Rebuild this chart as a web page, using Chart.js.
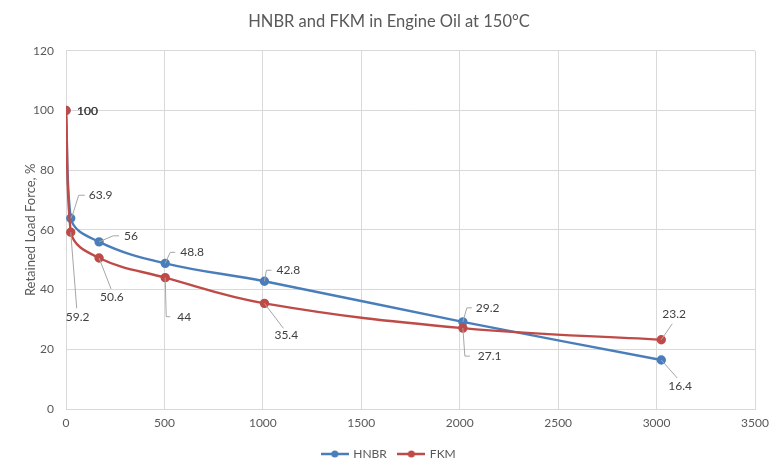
<!DOCTYPE html>
<html>
<head>
<meta charset="utf-8">
<script src="https://cdn.jsdelivr.net/npm/chart.js@4/dist/chart.umd.min.js"></script>
<style>
  body { margin: 0; background: #fff; }
  canvas { display: block; }
</style>
</head>
<body>
<canvas id="chart" width="784" height="470"></canvas>
<script>
// hours in oil
const hours = [0, 24, 168, 504, 1008, 2016, 3024];
// retained load force, %
const hnbr = [100, 63.9, 56, 48.8, 42.8, 29.2, 16.4];
const fkm = [100, 59.2, 50.6, 44, 35.4, 27.1, 23.2];
const xTickStep = 500;
const yTickStep = 20;

const FONT = 'Lato, "Open Sans", sans-serif';
const BLUE = '#4A7EBB';
const RED = '#BE4B48';

// where each data label sits relative to its point, with its leader line
const labelPlace = [
  [
    { t: [11, 1] },
    { t: [18, -23], l: [[2, -4], [8, -23], [14, -23]] },
    { t: [25, -6], l: [[14, -6], [20, -6]] },
    { t: [15, -11], l: [[5, -11], [10, -11]] },
    { t: [12, -11], l: [[2, -11], [7, -11]] },
    { t: [13, -14], l: [[4, -14], [9, -14]] },
    { t: [7, 26], l: [[16, 18]] }
  ],
  [
    { t: [11, 1] },
    { t: [-5, 85], l: [[6, 76]] },
    { t: [1, 39], l: [[12, 31]] },
    { t: [12, 39], l: [[1, 39], [5, 39]] },
    { t: [10, 32], l: [[19, 25]] },
    { t: [15, 28], l: [[2, 28], [7, 28]] },
    { t: [1, -26], l: [[11, -16]] }
  ]
];

const leaderLabels = {
  id: 'leaderLabels',
  afterDatasetsDraw(chart) {
    const ctx = chart.ctx;
    ctx.save();
    ctx.font = '12px ' + FONT;
    ctx.textBaseline = 'middle';
    ctx.textAlign = 'left';
    chart.data.datasets.forEach((ds, di) => {
      const meta = chart.getDatasetMeta(di);
      meta.data.forEach((pt, i) => {
        const p = labelPlace[di][i];
        if (p.l) {
          ctx.strokeStyle = '#A6A6A6';
          ctx.lineWidth = 1;
          ctx.beginPath();
          ctx.moveTo(pt.x, pt.y);
          p.l.forEach(q => ctx.lineTo(pt.x + q[0], pt.y + q[1]));
          ctx.stroke();
        }
        ctx.fillStyle = '#404040';
        ctx.fillText(String(ds.data[i].y), pt.x + p.t[0], pt.y + p.t[1]);
      });
    });
    ctx.restore();
  }
};

function legendMark(color) {
  const c = document.createElement('canvas');
  c.width = 28; c.height = 10;
  const g = c.getContext('2d');
  g.strokeStyle = color; g.lineWidth = 2.5;
  g.beginPath(); g.moveTo(0, 5); g.lineTo(28, 5); g.stroke();
  g.fillStyle = color;
  g.beginPath(); g.arc(14, 5, 3.5, 0, Math.PI * 2); g.fill();
  return c;
}

function series(label, values, color, order) {
  return {
    label: label,
    data: hours.map((h, i) => ({ x: h, y: values[i] })),
    borderColor: color,
    backgroundColor: color,
    borderWidth: 2.4,
    pointRadius: 3.5,
    pointHoverRadius: 3.5,
    tension: 0.4,
    order: order
  };
}

const ctx = document.getElementById('chart').getContext('2d');
new Chart(ctx, {
  type: 'line',
  data: {
    datasets: [
      series('HNBR', hnbr, BLUE, 1),
      series('FKM', fkm, RED, 0)
    ]
  },
  options: {
    responsive: false,
    animation: false,
    devicePixelRatio: 1,
    layout: { padding: { left: 23, right: 29, top: 0, bottom: 0 } },
    plugins: {
      title: {
        display: true,
        text: 'HNBR and FKM in Engine Oil at 150°C',
        color: '#595959',
        font: { family: FONT, size: 16.5, weight: 'normal' },
        padding: { top: 12, bottom: 19 }
      },
      legend: {
        position: 'bottom',
        labels: {
          usePointStyle: true,
          pointStyleWidth: 25,
          color: '#595959',
          font: { family: FONT, size: 12 },
          boxHeight: 10,
          padding: 12,
          generateLabels(chart) {
            return chart.data.datasets.map((ds, i) => ({
              text: ds.label,
              fillStyle: ds.borderColor,
              strokeStyle: ds.borderColor,
              pointStyle: legendMark(ds.borderColor),
              datasetIndex: i,
              fontColor: '#595959',
              lineWidth: 0
            }));
          }
        }
      },
      tooltip: { enabled: false }
    },
    scales: {
      x: {
        type: 'linear',
        min: 0,
        max: 3500,
        ticks: {
          stepSize: xTickStep,
          color: '#595959',
          font: { family: FONT, size: 12 },
          padding: 7,
          callback: v => String(v)
        },
        grid: { color: '#D9D9D9', drawTicks: false },
        border: { color: '#D9D9D9' },
        afterFit(s) { s.height = 27; }
      },
      y: {
        min: 0,
        max: 120,
        ticks: { stepSize: yTickStep, color: '#595959', font: { family: FONT, size: 12 }, padding: 12 },
        grid: { color: '#D9D9D9', drawTicks: false },
        border: { display: false },
        title: {
          display: true,
          text: 'Retained Load Force, %',
          color: '#595959',
          font: { family: FONT, size: 13 },
          padding: 0
        },
        afterFit(s) { s.width = 43; }
      }
    }
  },
  plugins: [leaderLabels]
});
</script>
</body>
</html>
